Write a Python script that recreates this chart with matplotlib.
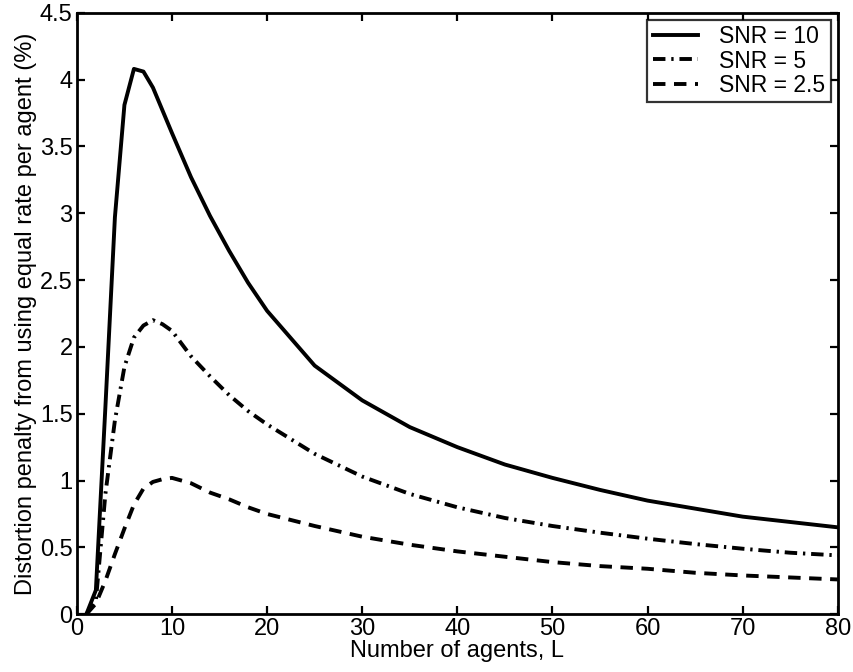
import matplotlib
matplotlib.use("Agg")
import matplotlib.pyplot as plt

plt.rcParams["font.family"] = ["Liberation Sans", "DejaVu Sans"]

agents = [1, 2, 3, 4, 5, 6, 7, 8, 9, 10, 12, 14, 16, 18, 20,
          25, 30, 35, 40, 45, 50, 55, 60, 65, 70, 75, 80]

# distortion penalty (%) for each SNR
snr10 = [0.0, 0.18, 1.55, 2.97, 3.81, 4.08, 4.06, 3.94, 3.77, 3.60, 3.27, 2.98, 2.72, 2.48, 2.27,
         1.86, 1.60, 1.40, 1.25, 1.12, 1.02, 0.93, 0.85, 0.79, 0.73, 0.69, 0.65]
snr5 = [0.0, 0.10, 0.90, 1.45, 1.85, 2.07, 2.16, 2.20, 2.17, 2.12, 1.93, 1.78, 1.64, 1.52, 1.42,
        1.20, 1.03, 0.90, 0.80, 0.72, 0.66, 0.61, 0.565, 0.525, 0.49, 0.46, 0.44]
snr25 = [0.0, 0.08, 0.25, 0.45, 0.64, 0.82, 0.94, 0.99, 1.01, 1.02, 0.98, 0.91, 0.86, 0.80, 0.75,
         0.66, 0.58, 0.52, 0.47, 0.43, 0.39, 0.36, 0.34, 0.31, 0.29, 0.275, 0.26]

labels = ["SNR = 10", "SNR = 5", "SNR = 2.5"]
yticks = [0, 0.5, 1, 1.5, 2, 2.5, 3, 3.5, 4, 4.5]
ytick_labels = ["0", "0.5", "1", "1.5", "2", "2.5", "3", "3.5", "4", "4.5"]

fig = plt.figure(figsize=(8.54, 6.72), dpi=100)
ax = fig.add_axes([0.09, 0.086, 0.891, 0.895])

lw = 2.8
ax.plot(agents, snr10, color="black", lw=lw, linestyle="-", label=labels[0])
ax.plot(agents, snr5, color="black", lw=lw, linestyle=(0, (3.2, 1.5, 0.6, 1.5)), label=labels[1])
ax.plot(agents, snr25, color="black", lw=lw, linestyle=(0, (3.2, 2.2)), label=labels[2])

ax.set_xlim(0, 80)
ax.set_ylim(0, 4.5)
ax.set_xticks(range(0, 81, 10))
ax.set_yticks(yticks)
ax.set_yticklabels(ytick_labels)
ax.tick_params(direction="in", top=True, right=True, length=6, width=1.6,
               labelsize=17)
ax.tick_params(axis="y", pad=3)
ax.tick_params(axis="x", pad=3)
for s in ax.spines.values():
    s.set_linewidth(2)

ax.set_xlabel("Number of agents, L", fontsize=17, labelpad=0)
ax.set_ylabel("Distortion penalty from using equal rate per agent (%)", fontsize=17, labelpad=2)

leg = ax.legend(loc="upper right", fontsize=16.5, frameon=True, fancybox=False,
                edgecolor="black", handlelength=2.0, handletextpad=0.9,
                borderaxespad=0.3, labelspacing=0.05, borderpad=0.25)
leg.get_frame().set_linewidth(1.6)

fig.savefig("out.png", dpi=100)
